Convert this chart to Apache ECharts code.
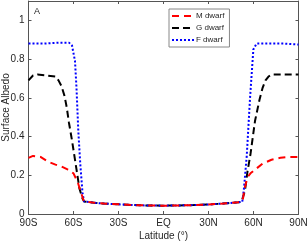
<!DOCTYPE html>
<html><head><meta charset="utf-8">
<script src="https://cdn.jsdelivr.net/npm/echarts@6/dist/echarts.min.js"></script>
<style>html,body{margin:0;padding:0;background:#fff}#c{width:307px;height:243px}</style>
</head><body><div id="c"></div>
<script>
const xTicks = [-90, -60, -30, 0, 30, 60, 90];
const xTickLabels = ['90S', '60S', '30S', 'EQ', '30N', '60N', '90N'];
const yTickLabels = ['0', '0.2', '0.4', '0.6', '0.8', '1'];

const mLat = [-90, -87, -82, -77, -72, -68, -64, -60, -57, -55, -53, -52, -45, -40, -30, -20, -10, 0, 10, 20, 30, 40, 45, 50, 52, 53, 54, 56, 58, 62, 66, 72, 78, 84, 90];
const mVal = [0.29, 0.30, 0.295, 0.27, 0.255, 0.245, 0.23, 0.21, 0.16, 0.11, 0.065, 0.062, 0.057, 0.054, 0.05, 0.046, 0.044, 0.043, 0.044, 0.046, 0.049, 0.054, 0.057, 0.061, 0.063, 0.08, 0.13, 0.19, 0.21, 0.235, 0.26, 0.28, 0.29, 0.295, 0.295];

const gLat = [-90, -87, -84, -78, -72, -70, -68, -66, -64.5, -63, -61, -58, -56, -54, -53, -52, -45, -40, -30, -20, -10, 0, 10, 20, 30, 40, 45, 50, 52, 53, 54.3, 56, 58, 61, 64, 66, 68, 70, 72, 80, 90];
const gVal = [0.69, 0.715, 0.72, 0.715, 0.71, 0.69, 0.66, 0.61, 0.55, 0.47, 0.38, 0.23, 0.13, 0.08, 0.065, 0.062, 0.057, 0.054, 0.05, 0.046, 0.044, 0.043, 0.044, 0.046, 0.049, 0.054, 0.057, 0.061, 0.063, 0.065, 0.12, 0.22, 0.31, 0.48, 0.59, 0.65, 0.69, 0.71, 0.72, 0.72, 0.72];

const fLat = [-90, -80, -70, -63, -61, -59, -58, -56.8, -55.5, -54, -53, -52, -45, -40, -30, -20, -10, 0, 10, 20, 30, 40, 45, 50, 52.5, 53.5, 55.5, 57.7, 59.9, 62, 70, 80, 90];
const fVal = [0.88, 0.88, 0.885, 0.885, 0.87, 0.79, 0.65, 0.43, 0.26, 0.11, 0.065, 0.062, 0.057, 0.054, 0.05, 0.046, 0.044, 0.043, 0.044, 0.046, 0.049, 0.054, 0.057, 0.061, 0.063, 0.12, 0.30, 0.60, 0.85, 0.88, 0.88, 0.88, 0.875];

const pair = (xs, ys) => xs.map((x, i) => [x, ys[i]]);
const axisCol = '#555';
const txtCol = '#262626';
const font = 'Liberation Sans, Arial, sans-serif';

const xLabel = v => { const i = xTicks.indexOf(v); return i >= 0 ? xTickLabels[i] : ''; };
const yLabel = v => { const k = Math.round(v * 5); return (Math.abs(v * 5 - k) < 1e-6 && k <= 5) ? yTickLabels[k] : ''; };

const line = {show: true, onZero: false, lineStyle: {color: axisCol, width: 1}};
const tick = {show: true, inside: true, length: 3, lineStyle: {color: axisCol}};

const chart = echarts.init(document.getElementById('c'), null, {renderer: 'canvas'});
chart.setOption({
  animation: false,
  backgroundColor: '#fff',
  grid: {left: 28.5, right: 8.5, top: 1, bottom: 29, containLabel: false, outerBoundsMode: 'none'},
  xAxis: [{
    type: 'value', min: -90, max: 90, interval: 30, position: 'bottom',
    name: 'Latitude (°)', nameLocation: 'middle', nameGap: 17, nameMoveOverlap: false,
    nameTextStyle: {color: txtCol, fontSize: 10, fontFamily: font},
    axisLine: line, axisTick: tick,
    axisLabel: {formatter: xLabel, color: txtCol, fontSize: 10, fontFamily: font, margin: 4},
    splitLine: {show: false}
  }, {
    type: 'value', min: -90, max: 90, interval: 30, position: 'top',
    axisLine: line, axisTick: tick,
    axisLabel: {show: false}, splitLine: {show: false}
  }],
  yAxis: [{
    type: 'value', min: 0, max: 1.1, interval: 0.2, position: 'left',
    name: 'Surface Albedo', nameLocation: 'middle', nameGap: 17, nameMoveOverlap: false,
    nameTextStyle: {color: txtCol, fontSize: 10, fontFamily: font},
    axisLine: line, axisTick: tick,
    axisLabel: {formatter: yLabel, color: txtCol, fontSize: 10, fontFamily: font, margin: 4},
    splitLine: {show: false}
  }, {
    type: 'value', min: 0, max: 1.1, interval: 0.2, position: 'right',
    axisLine: line, axisTick: tick,
    axisLabel: {show: false}, splitLine: {show: false}
  }],
  legend: {
    orient: 'vertical', left: 169, top: 9,
    itemWidth: 22, itemHeight: 8, itemGap: 4,
    padding: [3, 5, 3, 2],
    backgroundColor: '#fff', borderColor: '#888', borderWidth: 1,
    itemStyle: {opacity: 0},
    textStyle: {color: txtCol, fontSize: 8, fontFamily: font, padding: [0, 0, 0, -3]},
    data: ['M dwarf', 'G dwarf', 'F dwarf']
  },
  graphic: [{
    type: 'text', left: 34, top: 7,
    style: {text: 'A', fill: txtCol, font: '9px ' + font}
  }],
  series: [{
    name: 'F dwarf', type: 'line', data: pair(fLat, fVal), symbol: 'none',
    lineStyle: {color: '#0000ff', width: 2, type: [2, 2]}, itemStyle: {color: '#0000ff'}, z: 3
  }, {
    name: 'G dwarf', type: 'line', data: pair(gLat, gVal), symbol: 'none',
    lineStyle: {color: '#000000', width: 2, type: [7, 4]}, itemStyle: {color: '#000000'}, z: 2
  }, {
    name: 'M dwarf', type: 'line', data: pair(mLat, mVal), symbol: 'none',
    lineStyle: {color: '#ff0000', width: 2, type: [7, 5]}, itemStyle: {color: '#ff0000'}, z: 4
  }]
});
</script></body></html>
